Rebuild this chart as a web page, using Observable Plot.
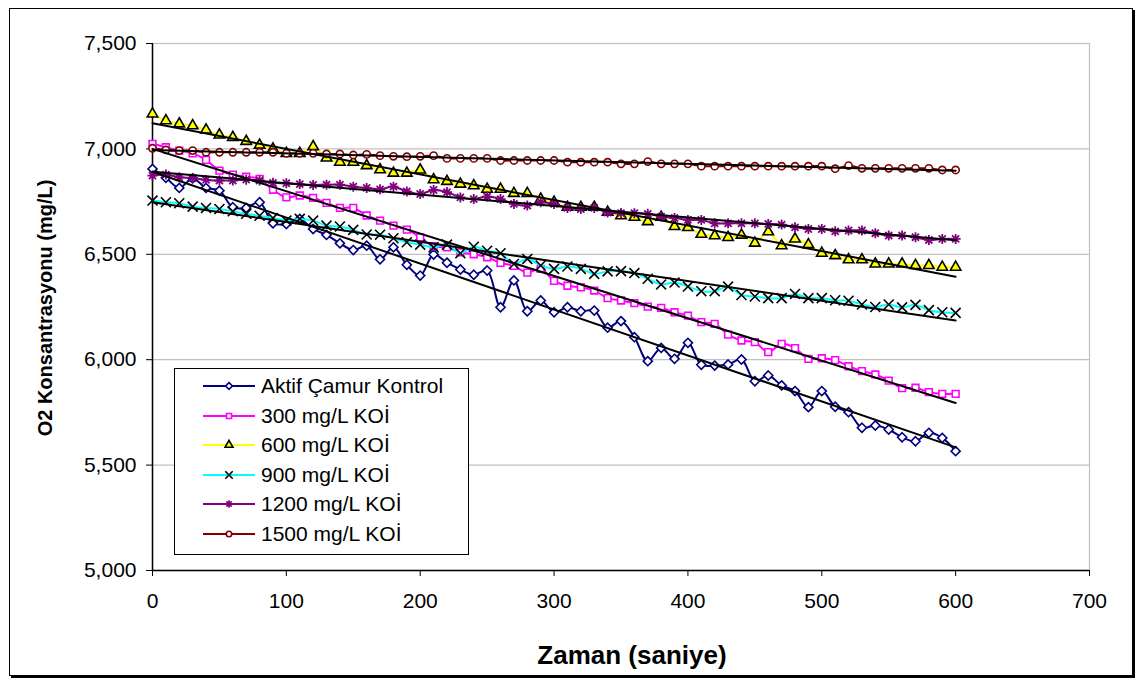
<!DOCTYPE html>
<html><head><meta charset="utf-8">
<script src="https://cdn.jsdelivr.net/npm/d3@7"></script>
<script src="https://cdn.jsdelivr.net/npm/@observablehq/plot@0.6"></script>
<style>
body{margin:0;background:#fff;font-family:Arial,"Liberation Sans",sans-serif;}
#wrap{position:relative;width:1142px;height:682px;overflow:hidden;}
#border{position:absolute;left:9px;top:8px;width:1122px;height:666px;border:1px solid #000;box-shadow:2px 2px 0 #000;pointer-events:none;}
#chart{position:absolute;left:0;top:0;}
.title{position:absolute;font-weight:bold;color:#000;white-space:nowrap;}
#xtitle{left:0;width:1264px;top:640px;text-align:center;font-size:26px;}
#ytitle{left:45px;top:308px;font-size:20px;transform:translate(-50%,-50%) rotate(-90deg);}
#legend{position:absolute;left:174px;top:368px;width:295px;height:187px;border:1px solid #000;background:#fff;box-sizing:border-box;}
.lrow{position:absolute;left:0;height:30px;display:flex;align-items:center;}
.lrow span{font-size:21px;margin-left:4px;}
</style></head><body>
<div id="wrap"><div id="chart"></div>
<div id="legend"></div>
<div class="title" id="xtitle">Zaman (saniye)</div>
<div class="title" id="ytitle">O2 Konsantrasyonu (mg/L)</div>
<div id="border"></div>
</div>
<script>
const times = [0,10,20,30,40,50,60,70,80,90,100,110,120,130,140,150,160,170,180,190,200,210,220,230,240,250,260,270,280,290,300,310,320,330,340,350,360,370,380,390,400,410,420,430,440,450,460,470,480,490,500,510,520,530,540,550,560,570,580,590,600];
const seriesNames = ["Aktif Çamur Kontrol","300 mg/L KOİ","600 mg/L KOİ","900 mg/L KOİ","1200 mg/L KOİ","1500 mg/L KOİ"];
const aktif = [6905,6863,6815,6860,6815,6802,6723,6720,6747,6647,6644,6668,6620,6592,6552,6520,6541,6476,6533,6450,6399,6499,6460,6428,6403,6423,6249,6376,6230,6281,6225,6249,6230,6233,6152,6183,6107,5993,6056,6004,6080,5976,5972,5977,6001,5898,5925,5878,5851,5775,5851,5777,5751,5677,5688,5669,5632,5613,5653,5629,5566];
const koi300 = [7024,7008,6992,6979,6948,6897,6878,6868,6858,6806,6770,6779,6768,6744,6720,6720,6684,6660,6636,6617,6580,6538,6533,6509,6500,6486,6459,6445,6413,6431,6374,6351,6343,6328,6292,6281,6268,6252,6246,6225,6209,6178,6170,6119,6091,6083,6036,6075,6055,6004,6007,5998,5969,5946,5930,5901,5865,5867,5846,5838,5838];
const koi600 = [7166,7134,7119,7110,7090,7066,7055,7036,7018,7000,6979,6979,7011,6957,6937,6937,6921,6901,6885,6885,6900,6854,6846,6833,6825,6809,6809,6789,6789,6762,6747,6723,6723,6723,6700,6683,6676,6655,6676,6632,6627,6595,6588,6580,6591,6553,6607,6541,6573,6546,6505,6494,6474,6474,6454,6454,6454,6447,6447,6439,6439];
const koi900 = [6755,6747,6742,6726,6720,6715,6704,6692,6683,6672,6660,6668,6660,6636,6632,6616,6594,6593,6576,6557,6546,6533,6546,6505,6536,6517,6505,6454,6478,6447,6431,6442,6431,6407,6419,6420,6411,6384,6357,6366,6347,6325,6325,6347,6307,6300,6292,6292,6312,6292,6292,6282,6280,6262,6250,6262,6248,6260,6235,6225,6222];
const koi1200 = [6873,6878,6865,6862,6853,6850,6850,6854,6850,6839,6837,6833,6829,6830,6830,6821,6815,6808,6821,6798,6786,6805,6795,6770,6762,6774,6762,6739,6731,6747,6739,6720,6715,6720,6698,6695,6695,6692,6679,6672,6663,6663,6647,6647,6647,6647,6644,6641,6628,6620,6620,6609,6613,6613,6600,6589,6589,6581,6568,6573,6573];
const koi1500 = [7003,6995,6992,6992,6984,6984,6984,6984,6984,6984,6979,6979,6979,6976,6976,6971,6974,6968,6965,6963,6965,6968,6955,6955,6955,6955,6945,6945,6945,6945,6945,6937,6937,6937,6937,6929,6929,6940,6929,6929,6929,6918,6918,6918,6918,6918,6918,6918,6918,6918,6918,6906,6921,6908,6908,6908,6908,6908,6908,6900,6900];
const xTicks = [0,100,200,300,400,500,600,700];
const yTicks = [5000,5500,6000,6500,7000,7500];

// custom 8-arm asterisk symbol
const star = {draw(ctx, size){const r = Math.sqrt(size/Math.PI); const d = r*0.7071;
  ctx.moveTo(-r,0);ctx.lineTo(r,0);ctx.moveTo(0,-r);ctx.lineTo(0,r);
  ctx.moveTo(-d,-d);ctx.lineTo(d,d);ctx.moveTo(-d,d);ctx.lineTo(d,-d);}};

const styles = [
  {line:"#000080", stroke:"#000080", fill:"white", symbol:d3.symbolDiamond2, r:4.1, sw:1.6},
  {line:"#FF00FF", stroke:"#FF00FF", fill:"white", symbol:d3.symbolSquare, r:3.8, sw:1.6},
  {line:"#FFFF00", stroke:"#000000", fill:"#FFFF00", symbol:d3.symbolTriangle, r:3.9, sw:1.6},
  {line:"#00FFFF", stroke:"#000000", fill:"none", symbol:d3.symbolTimes, r:4.6, sw:1.6},
  {line:"#800080", stroke:"#800080", fill:"none", symbol:star, r:5.0, sw:1.8},
  {line:"#800000", stroke:"#800000", fill:"white", symbol:d3.symbolCircle, r:3.6, sw:1.6}
];
const allSeries = [aktif, koi300, koi600, koi900, koi1200, koi1500];
const datasets = allSeries.map((vals, i) => vals.map((v, j) => ({t: times[j], o2: v, s: seriesNames[i]})));

const marks = [
  Plot.gridY(yTicks, {stroke:"#c0c0c0", strokeOpacity:1, strokeWidth:1.2}),
  Plot.frame({stroke:"#c0c0c0", strokeWidth:1.2}),
  Plot.axisY(yTicks, {tickFormat: d3.format(","), tickSize:6, tickPadding:10, fontSize:21, label:null, stroke:"#000"}),
  Plot.axisX(xTicks, {tickSize:6, tickPadding:17, fontSize:21, label:null, stroke:"#000"}),
  Plot.ruleY([5000], {stroke:"#000", strokeWidth:1.5}),
  Plot.ruleX([0], {stroke:"#000", strokeWidth:1.5})
];
datasets.forEach((d, i) => {
  const st = styles[i];
  marks.push(Plot.line(d, {x:"t", y:"o2", stroke:st.line, strokeWidth:2, curve:"catmull-rom"}));
  marks.push(Plot.dot(d, {x:"t", y:"o2", symbol:st.symbol, r:st.r, stroke:st.stroke, fill:st.fill, strokeWidth:st.sw}));
});
datasets.forEach((d) => {
  marks.push(Plot.linearRegressionY(d, {x:"t", y:"o2", stroke:"#000", strokeWidth:2, ci:0}));
});

const chart = Plot.plot({
  width:1142, height:682,
  marginLeft:152, marginRight:53, marginTop:43, marginBottom:112,
  style:{fontFamily:"Arial, 'Liberation Sans', sans-serif", color:"#000", background:"#fff"},
  x:{domain:[0,700]},
  y:{domain:[5000,7500]},
  marks
});
document.getElementById("chart").appendChild(chart);

// legend
const leg = d3.select("#legend");
seriesNames.forEach((name, i) => {
  const st = styles[i];
  const row = leg.append("div").attr("class","lrow").style("top", (2 + i*29.6) + "px");
  const svg = row.append("svg").attr("width", 82).attr("height", 30);
  svg.append("line").attr("x1", 28).attr("x2", 80).attr("y1", 15).attr("y2", 15).attr("stroke", st.line).attr("stroke-width", 2);
  const sz = Math.PI * Math.pow(st.r*0.75, 2);
  svg.append("path").attr("transform","translate(54,15)").attr("d", d3.symbol(st.symbol, sz)()).attr("stroke", st.stroke).attr("fill", st.fill).attr("stroke-width", 1.6);
  row.append("span").text(name);
});
</script>
</body></html>
